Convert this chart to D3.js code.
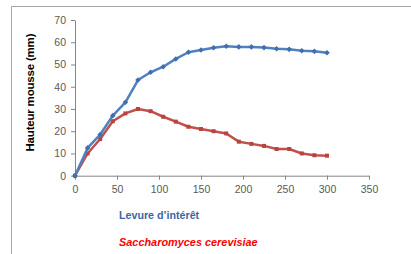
<!DOCTYPE html>
<html><head><meta charset="utf-8">
<script src="https://cdn.jsdelivr.net/npm/d3@7"></script>
<style>
html,body{margin:0;padding:0;background:#fff;}
svg{display:block;}
</style></head>
<body>
<svg id="c" width="411" height="254"></svg>
<script>
const times = [0,15,30,45,60,75,90,105,120,135,150,165,180,195,210,225,240,255,270,285,300];
const levure = [0,12.5,18.5,27,33,43,46.5,49,52.5,55.5,56.5,57.5,58.2,57.9,57.9,57.6,57.1,56.8,56.2,55.9,55.3];
const sacch = [0,10,16.5,24.5,28,30,29,26.5,24.3,22,21,20,19,15.3,14.3,13.4,12,12,10,9.2,9];
const xTicks = [0,50,100,150,200,250,300,350];
const yTicks = [0,10,20,30,40,50,60,70];
const seriesNames = ["Levure d\u2019intérêt","Saccharomyces cerevisiae"];

const svg = d3.select("#c");
const font = "Liberation Sans, Arial, sans-serif";

// outer frame
svg.append("path").attr("d","M11.5,260V6.5H420").attr("fill","none").attr("stroke","#a6a6a6").attr("stroke-width",1);

const x = d3.scaleLinear().domain([0,350]).range([75,369]);
const y = d3.scaleLinear().domain([0,70]).range([175.7,20]);

// axes
const xAxis = svg.append("g").attr("transform","translate(0,"+y(0)+")")
  .call(d3.axisBottom(x).tickValues(xTicks).tickSize(4).tickSizeOuter(0).tickPadding(4));
const yAxis = svg.append("g").attr("transform","translate("+x(0)+",0)")
  .call(d3.axisLeft(y).tickValues(yTicks).tickSize(4).tickSizeOuter(0).tickPadding(5));
[xAxis,yAxis].forEach(g=>{
  g.select(".domain").attr("stroke","#868686");
  g.selectAll(".tick line").attr("stroke","#868686");
  g.selectAll(".tick text").attr("fill","#595959").style("font-family",font).style("font-size","10.5px");
});
xAxis.selectAll(".tick text").attr("dy","0.9em");

// y title
svg.append("text").attr("transform","translate(33.5,92.5) rotate(-90)")
  .attr("text-anchor","middle").style("font-family",font).style("font-size","11.5px")
  .style("font-weight","bold").attr("fill","#000")
  .attr("textLength",118).attr("lengthAdjust","spacing").text("Hauteur mousse (mm)");

const line = d3.line().x((d,i)=>x(times[i])).y(d=>y(d));

// red series
svg.append("path").datum(sacch).attr("d",line).attr("fill","none")
  .attr("stroke","#C0504D").attr("stroke-width",2.5).attr("stroke-linejoin","round");
svg.selectAll(".rm").data(sacch).enter().append("rect")
  .attr("x",(d,i)=>x(times[i])-2).attr("y",d=>y(d)-2).attr("width",4).attr("height",4)
  .attr("fill","#B8433F");

// blue series
svg.append("path").datum(levure).attr("d",line).attr("fill","none")
  .attr("stroke","#4F81BD").attr("stroke-width",2.5).attr("stroke-linejoin","round");
svg.selectAll(".bm").data(levure).enter().append("path")
  .attr("transform",(d,i)=>"translate("+x(times[i])+","+y(d)+")")
  .attr("d","M0,-2.8L2.8,0L0,2.8L-2.8,0Z").attr("fill","#3F6FAF");

// legend texts
svg.append("text").attr("x",119).attr("y",219).style("font-family",font).style("font-size","10.7px")
  .style("font-weight","bold").attr("fill","#3B66A6").text(seriesNames[0]);
svg.append("text").attr("x",119).attr("y",246).style("font-family",font).style("font-size","10.9px")
  .style("font-weight","bold").style("font-style","italic").attr("fill","#FF0000").text(seriesNames[1]);
</script>
</body></html>
